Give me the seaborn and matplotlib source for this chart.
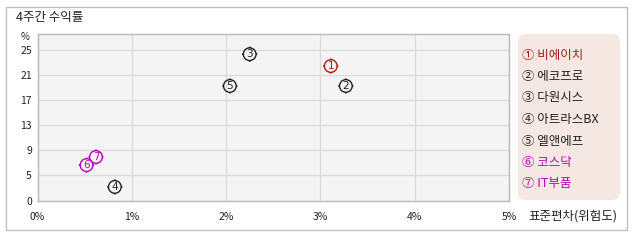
import matplotlib
matplotlib.use("Agg")
import matplotlib.pyplot as plt
import seaborn as sns
import pandas as pd
from matplotlib.path import Path
from matplotlib.patches import FancyBboxPatch, Rectangle

# ---- data ----
names = ["비에이치", "에코프로", "다원시스", "아트라스BX", "엘앤에프", "코스닥", "IT부품"]
numbers = ["①", "②", "③", "④", "⑤", "⑥", "⑦"]
digits = ["1", "2", "3", "4", "5", "6", "7"]
risk = [3.11, 3.27, 2.25, 0.82, 2.04, 0.52, 0.62]      # 표준편차 (%)
ret = [22.5, 19.3, 24.4, 3.1, 19.3, 6.6, 7.9]          # 4주간 수익률 (%)
colors = ["#b01818", "#222222", "#222222", "#222222", "#222222", "#c000c0", "#c000c0"]
xticks = [0, 1, 2, 3, 4, 5]
xticklabels = ["0%", "1%", "2%", "3%", "4%", "5%"]
yticks = [0.84, 5, 9, 13, 17, 21, 25]
yticklabels = ["0", "5", "9", "13", "17", "21", "25"]
title = "4주간 수익률"
xlabel = "표준편차(위험도)"
ylim = (0.84, 27.64)
xlim = (0, 5)

df = pd.DataFrame({"name": names, "risk": risk, "ret": ret})

sns.set_theme(style="white")
plt.rcParams["font.family"] = ["Noto Sans CJK KR", "DejaVu Sans"]

W, H = 638, 242
fig = plt.figure(figsize=(W / 100, H / 100), dpi=100)

def fx(px):
    return px / W

def fy(py):
    return 1 - py / H

# outer frame
fig.patches.append(Rectangle((fx(6), fy(230)), fx(621), 223 / H, transform=fig.transFigure,
                             fill=False, edgecolor="#c0c0c0", linewidth=1.0))
fig.text(fx(16), fy(18), title, fontsize=9, color="#222222", va="center", ha="left")

ax = fig.add_axes([fx(37.5), fy(201), fx(509 - 37.5), (201 - 34) / H])
ax.set_facecolor("#f4f4f4")

# custom marker: circle with four small ticks
circ = Path.unit_circle()
ticks = []
for (a, b) in [((0, 1), (0, 1.2)), ((0, -1), (0, -1.2)), ((1, 0), (1.2, 0)), ((-1, 0), (-1.2, 0))]:
    ticks.append(Path([a, b], [Path.MOVETO, Path.LINETO]))
marker_path = Path.make_compound_path(circ, *ticks)

sns.scatterplot(data=df, x="risk", y="ret", hue="name", palette=colors, marker=marker_path,
                s=120, legend=False, ax=ax, zorder=3, linewidth=1.0)
coll = ax.collections[0]
fcs = coll.get_facecolors()
coll.set_edgecolors(fcs)
coll.set_facecolors("none")

for x, y, d, c in zip(risk, ret, digits, colors):
    ax.text(x, y, d, fontsize=7.5, color=c, ha="center", va="center", zorder=4,
            family=["DejaVu Sans"])

ax.set_xlim(*xlim)
ax.set_ylim(*ylim)
ax.set_xticks(xticks)
ax.set_xticklabels(xticklabels, fontsize=7.5, color="#222222")
ax.set_yticks(yticks)
ax.set_yticklabels(yticklabels, fontsize=7.5, color="#222222")
ax.tick_params(axis="both", length=0)
ax.tick_params(axis="x", pad=8)
ax.tick_params(axis="y", pad=4)
ax.grid(True, color="#dcdcdc", linewidth=1.0)
ax.set_axisbelow(True)
for sp in ax.spines.values():
    sp.set_color("#bbbbbb")
    sp.set_linewidth(1.0)
ax.set_xlabel("")
ax.set_ylabel("")

fig.text(fx(25), fy(37), "%", fontsize=7, color="#222222", ha="center", va="center")
fig.text(fx(528), fy(216), xlabel, fontsize=9, color="#222222", ha="left", va="center")

# legend box
fig.patches.append(FancyBboxPatch((fx(518), fy(200)), fx(102), (200 - 34) / H,
                                  boxstyle="round,pad=0,rounding_size=0.012",
                                  transform=fig.transFigure, facecolor="#f5e8e2",
                                  edgecolor="none", mutation_aspect=W / H))
for i, (n, nm, c) in enumerate(zip(numbers, names, colors)):
    yy = 55 + i * 21.5
    fig.text(fx(522), fy(yy), n + " " + nm, fontsize=9, color=c, ha="left", va="center")

fig.savefig("out.png", dpi=100)
